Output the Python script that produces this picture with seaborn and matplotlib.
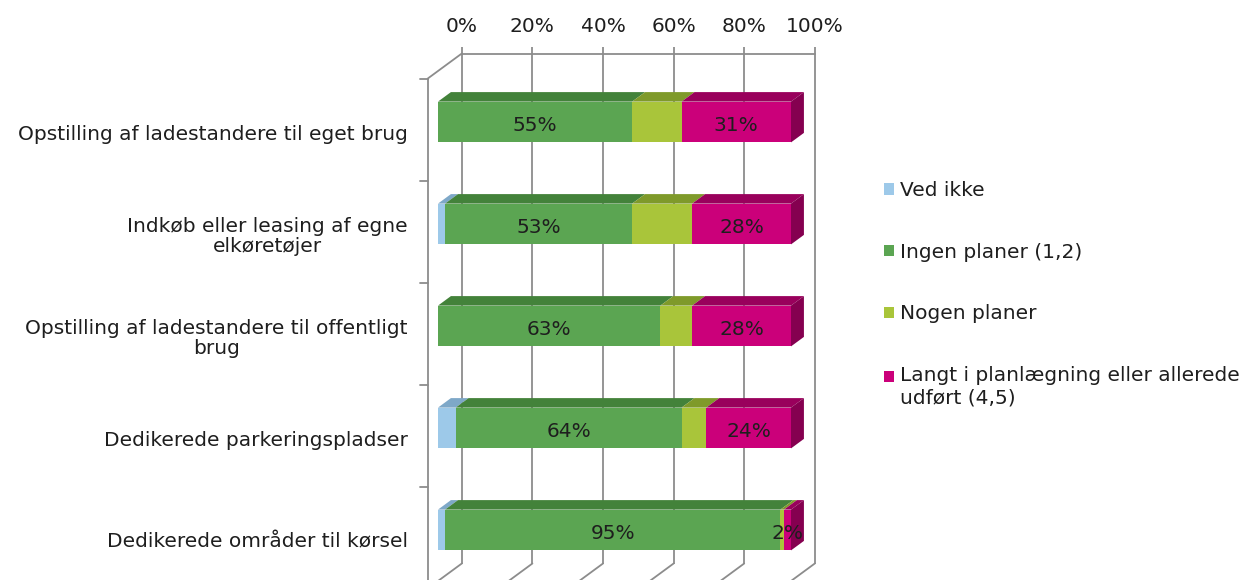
import numpy as np
import pandas as pd
import matplotlib
matplotlib.use("Agg")
import matplotlib.pyplot as plt
import seaborn as sns
from matplotlib.patches import Polygon, Patch, Rectangle
from matplotlib.legend_handler import HandlerPatch
from matplotlib.transforms import ScaledTranslation

# ---- data -------------------------------------------------------------
categories = [
    "Opstilling af ladestandere til eget brug",
    "Indkøb eller leasing af egne\nelkøretøjer",
    "Opstilling af ladestandere til offentligt\nbrug",
    "Dedikerede parkeringspladser",
    "Dedikerede områder til kørsel",
]
series_names = [
    "Ved ikke",
    "Ingen planer (1,2)",
    "Nogen planer",
    "Langt i planlægning eller allerede\nudført (4,5)",
]
ved_ikke = [0, 2, 0, 5, 2]
ingen_planer = [55, 53, 63, 64, 95]
nogen_planer = [14, 17, 9, 7, 1]
langt_i_planlaegning = [31, 28, 28, 24, 2]
show_value = [False, True, False, True]

tick_values = [0, 20, 40, 60, 80, 100]
tick_labels = ["0%", "20%", "40%", "60%", "80%", "100%"]

# ---- style ------------------------------------------------------------
face_colors = ["#9DC9E9", "#5BA552", "#A9C53A", "#CB007A"]
top_colors = ["#7EA8C8", "#43823A", "#7F9A2A", "#99005C"]
side_color = "#850050"
grid_color = "#8c8c8c"
text_color = "#1e1e1e"
FS = 14.5

sns.set_style("white")
plt.rcParams["font.family"] = ["DejaVu Sans"]

W, H, DPI = 1252, 580, 100
fig = plt.figure(figsize=(W / DPI, H / DPI), dpi=DPI)

# axes frame: bar front plane, 3.53 px per percent, 102 px per row
XMIN, XMAX = -8.5, 110.0
px_per_pct = 3.53
x0_px = 438.0
left_px = x0_px + XMIN * px_per_pct
width_px = (XMAX - XMIN) * px_per_pct
top_px, bottom_px = 71.0, 581.0
ax = fig.add_axes([left_px / W, (H - bottom_px) / H,
                   width_px / W, (bottom_px - top_px) / H])
ax.patch.set_alpha(0)
for s in ax.spines.values():
    s.set_visible(False)

# oblique depth vector (one depth unit, in data units)
DXD = 34.0 / px_per_pct
DYD = 25.0 / 102.0


def P(x, y, d):
    return (x + d * DXD, y - d * DYD)


WALL_FRONT, WALL_BACK = -0.3, 0.7
BAR_H = 0.40
BAR_DEPTH = 0.38
n = len(categories)
line_kw = dict(color=grid_color, lw=1.3, zorder=0.5, clip_on=False)

# ---- walls and grid ---------------------------------------------------
for v in tick_values:
    xa, ya = P(v, -0.56, WALL_BACK)
    xb, yb = P(v, n - 0.5, WALL_BACK)
    ax.plot([xa, xb], [ya, yb], solid_capstyle="butt", **line_kw)
    xc, yc = P(v, n - 0.5, WALL_FRONT)
    ax.plot([xb, xc], [yb, yc], **line_kw)

# back wall top edge
xa, ya = P(0, -0.5, WALL_BACK)
xb, yb = P(100, -0.5, WALL_BACK)
ax.plot([xa, xb], [ya, yb], **line_kw)

# left wall edges and category ticks
xa, ya = P(0, -0.5, WALL_FRONT)
xb, yb = P(0, n - 0.5, WALL_FRONT)
ax.plot([xa, xb], [ya, yb], **line_kw)
xc, yc = P(0, -0.5, WALL_BACK)
ax.plot([xa, xc], [ya, yc], **line_kw)
for k in range(n + 1):
    tx, ty = P(0, k - 0.5, WALL_FRONT)
    ax.plot([tx - 2.1, tx], [ty, ty], **line_kw)

# ---- bars -------------------------------------------------------------
values = np.array([ved_ikke, ingen_planer, nogen_planer, langt_i_planlaegning],
                  dtype=float)
cum = np.cumsum(values, axis=0)
starts = cum - values

# front faces: overlay cumulative totals, last series first
for k in range(len(series_names) - 1, -1, -1):
    df = pd.DataFrame({"category": categories, "total": cum[k]})
    sns.barplot(data=df, x="total", y="category", orient="h",
                color=face_colors[k], saturation=1, width=BAR_H,
                edgecolor="none", linewidth=0, ax=ax, zorder=2)

# top and side faces
for i in range(n):
    y_top = i - BAR_H / 2
    y_bot = i + BAR_H / 2
    for k in range(len(series_names)):
        if values[k, i] <= 0:
            continue
        l, r = starts[k, i], cum[k, i]
        poly = [(l, y_top), (r, y_top), P(r, y_top, BAR_DEPTH), P(l, y_top, BAR_DEPTH)]
        ax.add_patch(Polygon(poly, closed=True, facecolor=top_colors[k],
                             edgecolor="none", zorder=2, clip_on=False))
    r = cum[-1, i]
    poly = [(r, y_top), (r, y_bot), P(r, y_bot, BAR_DEPTH), P(r, y_top, BAR_DEPTH)]
    ax.add_patch(Polygon(poly, closed=True, facecolor=side_color,
                         edgecolor="none", zorder=2, clip_on=False))

# value labels
for k in range(len(series_names)):
    if not show_value[k]:
        continue
    for i in range(n):
        v = values[k, i]
        ax.text(starts[k, i] + v / 2, i + 0.03, f"{v:.0f}%", ha="center",
                va="center", fontsize=FS, color=text_color, zorder=3)

# ---- axes -------------------------------------------------------------
ax.set_xlim(XMIN, XMAX)
ax.set_ylim(n - 0.5, -0.5)
ax.set_xlabel("")
ax.set_ylabel("")
ax.xaxis.tick_top()
ax.set_xticks([P(v, 0, WALL_BACK)[0] for v in tick_values])
ax.set_xticklabels(tick_labels)
ax.tick_params(axis="x", length=0, pad=25, labelsize=FS, labelcolor=text_color)
ax.set_yticks(range(n))
ax.set_yticklabels(categories)
ax.tick_params(axis="y", length=0, pad=0, labelsize=FS, labelcolor=text_color)
shift = ScaledTranslation(0, -0.10, fig.dpi_scale_trans)
for lab in ax.get_yticklabels():
    lab.set_multialignment("center")
    lab.set_linespacing(1.1)
    lab.set_transform(lab.get_transform() + shift)
ax.grid(False)


# ---- legend -----------------------------------------------------------
class RaisedSquare(HandlerPatch):
    """Square legend key lifted to sit beside the first line of its label."""

    def __init__(self, lift_pts=0.0, **kw):
        super().__init__(**kw)
        self.lift_pts = lift_pts

    def create_artists(self, legend, orig_handle, xdescent, ydescent,
                       width, height, fontsize, trans):
        rect = Rectangle((-xdescent, -ydescent + self.lift_pts), width, height,
                         facecolor=orig_handle.get_facecolor(),
                         edgecolor="none", transform=trans)
        return [rect]


handles = [Patch(facecolor=c, edgecolor="none") for c in face_colors]
handler_map = {h: RaisedSquare(0.0) for h in handles[:-1]}
handler_map[handles[-1]] = RaisedSquare(7.5)
fig.legend(handles, series_names, loc="upper left", handler_map=handler_map,
           bbox_to_anchor=(884 / W, 1 - 181 / H), frameon=False,
           fontsize=FS, handlelength=0.5, handleheight=0.5,
           handletextpad=0.3, labelspacing=2.12, borderaxespad=0,
           borderpad=0, labelcolor=text_color)

fig.savefig("out.png", dpi=DPI)
